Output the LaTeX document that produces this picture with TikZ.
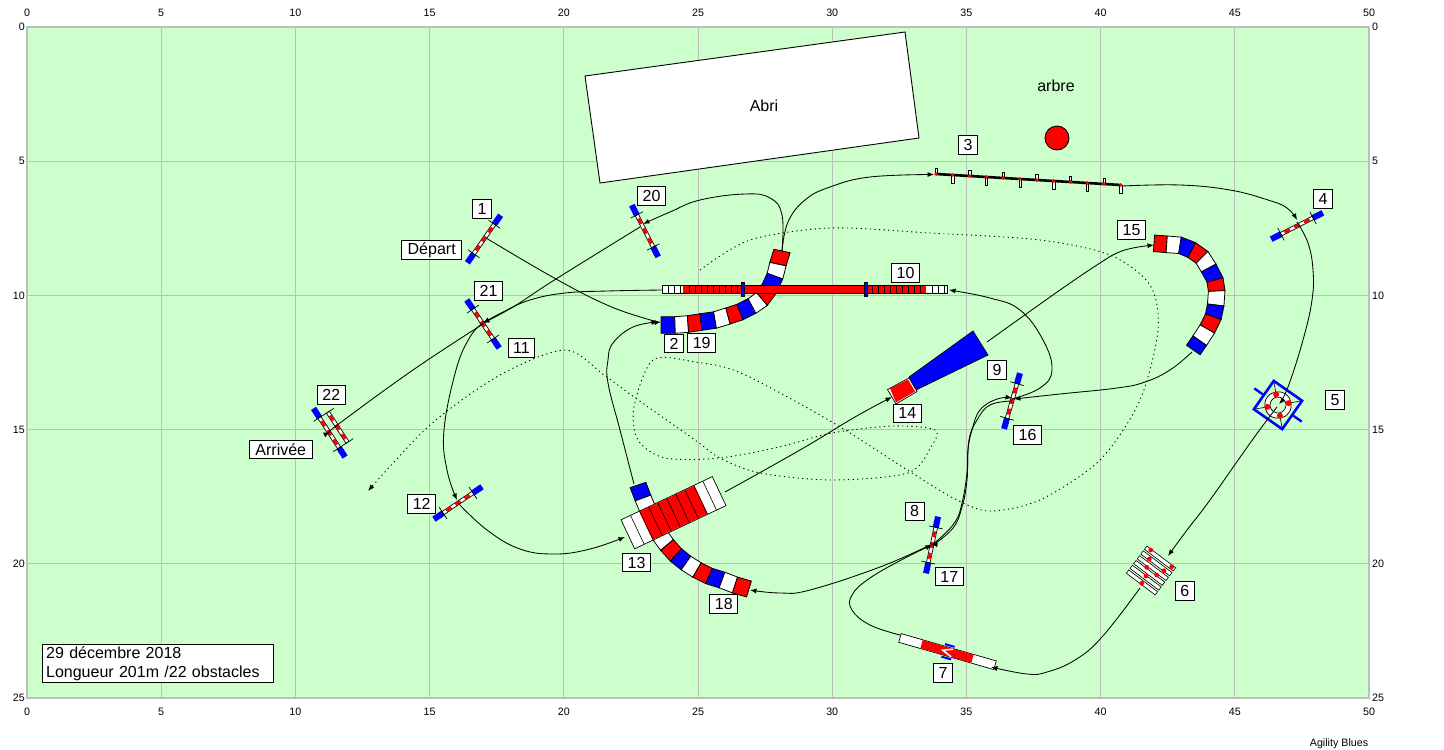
\documentclass[tikz,border=0pt]{standalone}
\usepackage{fontspec}
\setmainfont{Liberation Sans}
\usetikzlibrary{arrows.meta,calc}
\definecolor{turf}{RGB}{204,255,204}
\definecolor{gridgrey}{RGB}{190,190,190}
\tikzset{
  numbox/.style={draw=black, fill=white, line width=0.9pt, inner xsep=5pt, inner ysep=0pt, minimum height=18.5pt, font=\fontsize{16}{19}\selectfont},
  axnum/.style={inner sep=0pt, font=\fontsize{10.7}{12}\selectfont},
  course/.style={black, line width=0.85pt, -{Latex[length=6.5pt,width=5pt]}},
  walkline/.style={black, line width=0.9pt, dash pattern=on 1.2pt off 3.4pt, -{Latex[length=6.5pt,width=5pt]}},
  thin black/.style={draw=black, line width=0.7pt},
  tubeseg/.style={draw=black, line width=0.8pt},
}
% one jump: bar with red marks, blue wings and the two cross ticks
\newcommand{\hurdle}[3]{
  \begin{scope}[shift={(#1,#2)}, rotate=#3]
    \fill[blue] (-29,-3) rectangle (-18,3);
    \fill[blue] (18,-3) rectangle (29,3);
    \draw[thin black, fill=white] (-18,-1.8) rectangle (18,1.8);
    \foreach \m in {-11,0,11} \fill[red] (\m-3,-1.5) rectangle (\m+3,1.5);
    \draw[thin black] (-18,-7) -- (-18,7);
    \draw[thin black] (18,-7) -- (18,7);
  \end{scope}
}
% tunnel: list of cross sections x/y/direction/colour of the piece ending there
\newcommand{\tube}[1]{
  \foreach \x/\y/\a/\c [count=\i, remember=\x as \px (initially 0), remember=\y as \py (initially 0), remember=\a as \pa (initially 0)] in {#1} {
    \ifnum\i>1
      \draw[tubeseg, fill=\c] ($(\px,\py)+(\pa+90:8.3pt)$) -- ($(\x,\y)+(\a+90:8.3pt)$) -- ($(\x,\y)+(\a-90:8.3pt)$) -- ($(\px,\py)+(\pa-90:8.3pt)$) -- cycle;
    \fi
  }
}
\begin{document}
\begin{tikzpicture}[x=1pt, y=-1pt]
    \useasboundingbox (0,0) rectangle (1444,750);

    % Terrain and grid
    \fill[turf] (27,27) rectangle (1369,698);
    \foreach \k in {5,10,...,45} \draw[gridgrey, line width=0.9pt] ({27+26.84*\k},27) -- ({27+26.84*\k},698);
    \foreach \k in {5,10,15,20} \draw[gridgrey, line width=0.9pt] (27,{27+26.84*\k}) -- (1369,{27+26.84*\k});
    \draw[gridgrey, line width=2pt] (27,27) rectangle (1369,698);

    % Axis numbers
    \foreach \k in {0,5,...,50} {
        \node[axnum] (top\k) at ({27+26.84*\k},13) {\k};
        \node[axnum] (bot\k) at ({27+26.84*\k},712) {\k};
    }
    \foreach \k in {0,5,...,25} {
        \node[axnum, anchor=east] (lft\k) at (25,{27+26.84*\k}) {\k};
        \node[axnum, anchor=west] (rgt\k) at (1372,{27+26.84*\k}) {\k};
    }
    \node[axnum] (soft) at (1339,744) {Agility Blues};

    % Abri and arbre
    \draw[black, line width=0.9pt, fill=white] (585,76) -- (905,32) -- (919,138) -- (600,183) -- cycle;
    \node[font=\fontsize{16}{19}\selectfont] (abri) at (764,106) {Abri};
    \node[font=\fontsize{16}{19}\selectfont] (arbre) at (1056,86) {arbre};
    \draw[black, line width=0.9pt, fill=red] (1057,138) circle (12);

    % Tunnels
    \tube{661/325/0/none, 675/325/2/blue, 688/324/4/white, 701/322/7/red, 715/320/10/blue, 728/316/15/white, 740/312/21/red, 752/306/28/blue, 762/299/40/white, 769/289/58/red, 775/276/70/blue, 778/264/78/white, 782/251/78/red}
    \tube{638/485/-71/none, 643/498/-70/blue, 648/510/-66/white, 654/522/-62/red, 659/534/-55/blue, 667/545/-50/white, 676/555/-42/red, 686/563/-35/blue, 697/570/-30/white, 709/576/-24/red, 722/580/-20/blue, 735/585/-18/white, 749/589/-17/red}
    \tube{1154/243.3/-4/none, 1166.7/244.3/-4/red, 1180/245.3/-9/white, 1191.7/250/-27/blue, 1202/257.3/-45/red, 1208.7/268/-62/white, 1215/280/-75/blue, 1216.7/291/-87/red, 1215.7/305/-97/white, 1213.3/316.7/-110/blue, 1207.3/329/-120/red, 1199.7/340.7/-125/white, 1193.3/350/-125/blue}

    % Tunnel 14, rigid part and cloth
    \draw[thin black, fill=blue] (909,377) -- (973,331) -- (988,355) -- (916,390) -- cycle;
    \draw[thin black, fill=white] (887.5,389.5) -- (909,378) -- (917,391.5) -- (896,404) -- cycle;
    \fill[red] (890,388.5) -- (908,379.5) -- (915,391.5) -- (896,402.5) -- cycle;

    % Passerelle 10
    \draw[thin black, fill=white] (662,285.5) rectangle (947,293.5);
    \fill[red] (683,286) rectangle (926,293);
    \foreach \t in {668,674,680,932,938,944,689,695,...,737,872,878,...,920} \draw[black, line width=0.5pt] (\t,285.5) -- (\t,293.5);
    \draw[black, line width=0.5pt, fill=blue] (741.5,282.5) rectangle (744.5,296.5);
    \draw[black, line width=0.5pt, fill=blue] (864.5,282.5) rectangle (867.5,296.5);

    % Palissade 13
    \begin{scope}[shift={(673.5,512.7)}, rotate=25.3]
        \draw[thin black, fill=white] (-50.5,-16) rectangle (50.5,16);
        \fill[red] (-30.5,-15.6) rectangle (30.5,15.6);
        \foreach \t in {-40,-30,...,40} \draw[black, line width=0.6pt] (\t,-16) -- (\t,16);
    \end{scope}

    % Balance 7
    \begin{scope}[shift={(947.5,651.6)}, rotate=-16]
        \draw[blue, line width=2pt] (-4.5,-6.5) -- (5.5,-6.5);
        \draw[blue, line width=2pt] (-4.5,6.5) -- (5.5,6.5);
        \draw[thin black, fill=white] (-49.5,-4.5) rectangle (49.5,4.5);
        \fill[red] (-27,-4.2) rectangle (26,4.2);
        \draw[white, line width=1.5pt] (5,-4) -- (-5,0) -- (5,4);
    \end{scope}

    % Slalom 3
    \draw[black, line width=2.6pt] (936,174) -- (1121,185);
    \foreach \i in {0,...,11} {
        \pgfmathsetmacro{\polex}{936+16.8*\i}
        \pgfmathsetmacro{\poley}{174+\i}
        \ifodd\i
            \draw[black, line width=0.6pt, fill=white] (\polex-1.2,\poley) rectangle (\polex+1.2,\poley+8);
        \else
            \draw[black, line width=0.6pt, fill=white] (\polex-1.2,\poley) rectangle (\polex+1.2,\poley-6);
        \fi
        \fill[red] (\polex,\poley) circle (1.9);
    }

    % Pneu 5
    \begin{scope}[shift={(1278,405)}, rotate=-35]
        \foreach \w in {10,100,190,280} \draw[black, line width=0.6pt] (\w+35:13) -- (\w+35:24);
        \draw[blue, line width=2.6pt] (-17.3,-17.3) rectangle (17.3,17.3);
        \draw[blue, line width=2.4pt] (-29,0) -- (-17.3,0);
        \draw[blue, line width=2.4pt] (17.3,0) -- (29,0);
        \draw[black, line width=0.7pt, fill=white, even odd rule] (0,0) circle (13.3) (0,0) circle (8);
        \foreach \w in {0,90,180,270} \fill[red] (\w+45:10.8) circle (3);
    \end{scope}

    % Saut en longueur 6
    \begin{scope}[shift={(1151,570.5)}, rotate=-37]
        \foreach \b in {-15,-9,-3,3,9,15} \draw[black, line width=0.6pt, fill=white] (-18,\b-2) rectangle (18,\b+2);
    \end{scope}
    \foreach \rx/\ry in {1150.7/550, 1171.7/566.7, 1149.3/559, 1164/570.7, 1146.7/567.3, 1156.7/575, 1146/576, 1141.7/583.3} \fill[red] (\rx,\ry) circle (2.4);

    % Haies
    \hurdle{484}{239}{55}
    \hurdle{645}{231}{-63}
    \hurdle{483}{324}{-56}
    \hurdle{458}{503}{34}
    \hurdle{1297}{226}{27}
    \hurdle{932}{545}{78}
    \hurdle{1012}{401}{74}

    % Double haie 22
    \begin{scope}[shift={(333.5,430)}, rotate=-57]
        \fill[blue] (-29,2) rectangle (-18,8);
        \fill[blue] (18,2) rectangle (29,8);
        \foreach \b in {-5,5} {
            \draw[thin black, fill=white] (-18,\b-1.8) rectangle (18,\b+1.8);
            \foreach \m in {-11,0,11} \fill[red] (\m-3,\b-1.5) rectangle (\m+3,\b+1.5);
        }
        \draw[thin black] (-18,-12) -- (-18,12);
        \draw[thin black] (18,-12) -- (18,12);
    \end{scope}

    % Parcours du chien
    \draw[course] plot[smooth, tension=0.7] coordinates {(486,238) (556,279) (607,305) (647,319) (661,322)};
    \draw[course] plot[smooth, tension=0.7] coordinates {(782,251) (788,222) (805,200) (830,187) (870,177) (934,174.5)};
    \draw[course] plot[smooth, tension=0.7] coordinates {(1122,186) (1180,185) (1230,190) (1268,200) (1287,208) (1297,220)};
    \draw[course] plot[smooth, tension=0.7] coordinates {(1297,222) (1308,243) (1313,270) (1312,300) (1303,340) (1288,387) (1279,404)};
    \draw[course] plot[smooth, tension=0.7] coordinates {(1277,407) (1253,439) (1210,500) (1187,530) (1168,556)};
    \draw[course] plot[smooth, tension=0.7] coordinates {(1140,588) (1102,637) (1075,660) (1047,672) (1027,674) (991,667)};
    \draw[course] plot[smooth, tension=0.7] coordinates {(900,635) (870,625) (852,610) (852,595) (870,578) (905,558) (932,545)};
    \draw[course] plot[smooth, tension=0.7] coordinates {(933,545) (953,528) (962,507) (967,480) (968,450) (972,430) (980,410) (997,399) (1012,398)};
    \draw[course] plot[smooth, tension=0.7] coordinates {(1012,399) (1040,388) (1052,370) (1043,340) (1020,310) (990,298) (949,290)};
    \draw[course] plot[smooth, tension=0.7] coordinates {(662,290) (607,291) (565,293) (530,300) (503,312) (483,323)};
    \draw[course] plot[smooth, tension=0.7] coordinates {(483,323) (470,337) (456,370) (444,430) (447,470) (457,500)};
    \draw[course] plot[smooth, tension=0.7] coordinates {(458,503) (487,530) (520,549) (555,554) (590,549) (625,537)};
    \draw[course] plot[smooth, tension=0.7] coordinates {(725,492) (800,450) (855,417) (892,397)};
    \draw[course] plot[smooth, tension=0.7] coordinates {(987,342) (1060,290) (1100,263) (1117,253) (1133,248) (1154,245)};
    \draw[course] plot[smooth, tension=0.7] coordinates {(1192,352) (1170,370) (1145,382) (1117,388) (1060,394) (1014,399)};
    \draw[course] plot[smooth, tension=0.7] coordinates {(1012,401) (990,405) (977,420) (969,440) (967,473) (962,503) (955,522) (938,540) (931,544)};
    \draw[course] plot[smooth, tension=0.7] coordinates {(930,545) (880,567) (810,590) (780,593) (750,590)};
    \draw[course] plot[smooth, tension=0.7] coordinates {(634,484) (620,430) (608,383) (608,360) (613,343) (633,327) (658,322)};
    \draw[course] plot[smooth, tension=0.7] coordinates {(782,251) (782,215) (770,198) (745,194) (700,200) (670,212) (643,224)};
    \draw[course] plot[smooth, tension=0.7] coordinates {(640,227) (556,279) (513,307) (483,323)};
    \draw[course] plot[smooth, tension=0.7] coordinates {(483,324) (413,370) (340,423) (330,432)};

    % Reconnaissance en pointilles
    \draw[walkline] plot[smooth] coordinates {(700,270) (750,240) (830,228) (930,233) (1040,240) (1110,255) (1150,285) (1158,330) (1140,400) (1100,460) (1040,500) (990,511) (957,500) (912,473) (832,422) (741,373) (695,362) (653,360) (634,407) (638,440) (665,458) (720,458) (779,447) (832,433) (893,426) (935,430) (931,447) (908,473) (832,480) (760,473) (720,458) (695,440) (634,397) (604,375) (565,350) (500,375) (430,425) (368,491)};

    % Numeros
    \node[numbox] (n1) at (482,209) {1};
    \node[numbox] (n2) at (674,343.5) {2};
    \node[numbox] (n3) at (968,144.7) {3};
    \node[numbox] (n4) at (1323,199) {4};
    \node[numbox] (n5) at (1335,400) {5};
    \node[numbox] (n6) at (1184.7,591) {6};
    \node[numbox] (n7) at (943,673) {7};
    \node[numbox] (n8) at (914.5,511.3) {8};
    \node[numbox] (n9) at (997,369.7) {9};
    \node[numbox] (n10) at (905.5,273) {10};
    \node[numbox] (n11) at (521.5,348) {11};
    \node[numbox] (n12) at (421.7,504) {12};
    \node[numbox] (n13) at (636.5,562.5) {13};
    \node[numbox] (n14) at (907.3,413.3) {14};
    \node[numbox] (n15) at (1131.5,229.7) {15};
    \node[numbox] (n16) at (1027.5,435) {16};
    \node[numbox] (n17) at (949.3,576.5) {17};
    \node[numbox] (n18) at (723.8,604) {18};
    \node[numbox] (n19) at (701.7,343) {19};
    \node[numbox] (n20) at (651.5,196) {20};
    \node[numbox] (n21) at (488.5,291) {21};
    \node[numbox] (n22) at (331.3,395) {22};
    \node[numbox, minimum width=60pt] (depart) at (431.7,250) {Départ};
    \node[numbox, minimum width=63pt] (arrivee) at (280.8,449.5) {Arrivée};

    % Cartouche
    \node[numbox, anchor=north west, minimum width=231pt, minimum height=38pt, inner xsep=4pt, align=left, text width=223pt] (cartouche) at (41.7,644.3) {29 décembre 2018\\Longueur 201m /22 obstacles};
\end{tikzpicture}
\end{document}
